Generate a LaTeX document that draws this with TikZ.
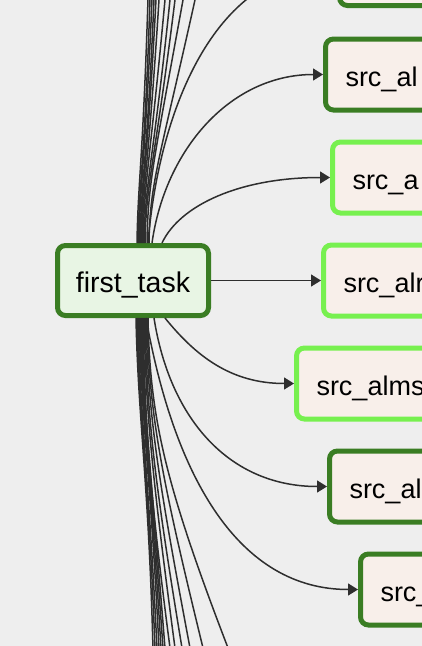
\documentclass[tikz,border=0pt]{standalone}
\usepackage{fontspec}
\setmainfont{Liberation Sans}
\usetikzlibrary{arrows.meta}
\definecolor{bgcol}{HTML}{EEEEEE}
\definecolor{dkgreen}{HTML}{3A7D23}
\definecolor{ltgreen}{HTML}{77F04F}
\definecolor{ftfill}{HTML}{E8F5E4}
\definecolor{srcfill}{HTML}{F8EFEA}
\definecolor{edgecol}{HTML}{2E2E2E}
\begin{document}
\begin{tikzpicture}[x=1pt,y=-1pt,
  taskbox/.style={draw, line width=5pt, rounded corners=8pt, minimum height=71pt,
    text height=23pt, text depth=0pt, font=\fontsize{27pt}{32pt}\selectfont},
  ftbox/.style={taskbox, draw=dkgreen, fill=ftfill, minimum width=151pt, minimum height=70pt,
    font=\fontsize{28.5pt}{34pt}\selectfont},
  srcbox/.style={taskbox, fill=srcfill, anchor=west, text width=180pt, align=left, inner xsep=20pt},
  dk/.style={draw=dkgreen},
  lt/.style={draw=ltgreen},
  conn/.style={draw=edgecol, line width=1.5pt, -{Triangle[length=10pt,width=12pt]}},
  fan/.style={draw=edgecol, line width=1.5pt}]
\useasboundingbox (0,0) rectangle (422,646);
\fill[bgcol] (0,0) rectangle (422,646);
\clip (0,0) rectangle (422,646);

\node[ftbox] (ft) at (133,280.5) {first\_task};
\node[srcbox,dk] (n1) at (337,-30) {};
\node[srcbox,dk] (n2) at (323,74.5) {src\_al};
\node[srcbox,lt] (n3) at (330,177.5) {src\_a};
\node[srcbox,lt] (n4) at (321,280.5) {src\_alr};
\node[srcbox,lt] (n5) at (294,383.5) {src\_alms};
\node[srcbox,dk] (n6) at (327,486.5) {src\_al};
\node[srcbox,dk] (n7) at (358,589.5) {src\_};

\draw[conn] ([xshift=15pt]ft.north) .. controls (160,100) and (220,-30) .. (n1.west);
\draw[conn] ([xshift=19pt]ft.north) .. controls (165,150) and (230,74.5) .. (n2.west);
\draw[conn] ([xshift=29pt]ft.north) .. controls (180,205) and (240,177.5) .. (n3.west);
\draw[conn] (ft.east) -- (n4.west);
\draw[conn] ([xshift=32pt]ft.south) .. controls (195,355) and (230,383.5) .. (n5.west);
\draw[conn] ([xshift=21pt]ft.south) .. controls (170,420) and (230,486.5) .. (n6.west);
\draw[conn] ([xshift=13pt]ft.south) .. controls (175,480) and (240,589.5) .. (n7.west);

\foreach \fa/\fb/\fc [count=\i] in {4/148/.03, 5/150/.03, 6/152/.04, 7/154/.04, 8/156/.05, 9/159/.06, 10/165/.09, 11/170/.1, 12/175/.12, 14/183/.18, 16/195/.22} {
  \coordinate (tf\i) at ({\fb+\fc*20},-20);
  \draw[fan] ([xshift=\fa pt]ft.north) .. controls ({133+\fa+1},180) and ({\fb-\fc*160},160) .. (tf\i);
}
\foreach \fa/\fb/\fc [count=\i] in {3/153/.02, 4/155/.03, 5/157/.04, 6/159/.04, 7/161/.05, 8/163/.06, 9/165/.07, 10/170/.12, 11/175/.12, 12/182/.15, 13/190/.17, 14/203/.22, 15/228/.35} {
  \coordinate (bf\i) at ({\fb+\fc*20},666);
  \draw[fan] ([xshift=\fa pt]ft.south) .. controls ({133+\fa+2},420) and ({\fb-\fc*180},486) .. (bf\i);
}
\end{tikzpicture}
\end{document}
